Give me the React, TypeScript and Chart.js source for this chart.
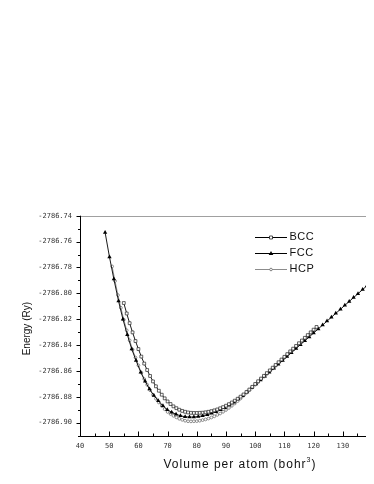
import React, { useEffect, useRef } from "react";
import { Chart, registerables } from "chart.js";
Chart.register(...registerables);

const seriesNames = ["BCC", "FCC", "HCP"];

const bccVolume = [55, 56, 57, 58, 59, 60, 61, 62, 63, 64, 65, 66, 67, 68, 69, 70, 71, 72, 73, 74, 75, 76, 77, 78, 79, 80, 81, 82, 83, 84, 85, 86, 87, 88, 89, 90, 91, 92, 93, 94, 95, 96, 97, 98, 99, 100, 101, 102, 103, 104, 105, 106, 107, 108, 109, 110, 111, 112, 113, 114, 115, 116, 117, 118, 119, 120, 121];
const bccEnergy = [-2786.8075, -2786.8156, -2786.8231, -2786.8302, -2786.8369, -2786.8431, -2786.8489, -2786.8543, -2786.8593, -2786.8639, -2786.8681, -2786.8719, -2786.8753, -2786.8784, -2786.8812, -2786.8836, -2786.8856, -2786.8874, -2786.8888, -2786.89, -2786.8909, -2786.8916, -2786.8921, -2786.8924, -2786.8925, -2786.8925, -2786.8924, -2786.8923, -2786.892, -2786.8916, -2786.8911, -2786.8905, -2786.8898, -2786.8889, -2786.888, -2786.8869, -2786.8857, -2786.8844, -2786.883, -2786.8815, -2786.8799, -2786.8782, -2786.8763, -2786.8744, -2786.8723, -2786.8701, -2786.868, -2786.8659, -2786.8638, -2786.8617, -2786.8596, -2786.8575, -2786.8554, -2786.8533, -2786.8512, -2786.8491, -2786.847, -2786.8449, -2786.8428, -2786.8407, -2786.8386, -2786.8365, -2786.8344, -2786.8323, -2786.8302, -2786.8281, -2786.826];

const fccVolume = [48.6, 50.1, 51.6, 53.2, 54.7, 56.2, 57.7, 59.2, 60.8, 62.3, 63.8, 65.3, 66.8, 68.4, 69.9, 71.4, 72.9, 74.4, 76.0, 77.5, 79.0, 80.5, 82.0, 83.6, 85.1, 86.6, 88.1, 89.6, 91.2, 92.7, 94.2, 95.7, 97.2, 98.8, 100.3, 101.8, 103.3, 104.8, 106.4, 107.9, 109.4, 110.9, 112.4, 114.0, 115.5, 117.0, 118.5, 120.0, 121.6, 123.1, 124.6, 126.1, 127.6, 129.2, 130.7, 132.2, 133.7, 135.2, 136.8, 138.3];
const fccEnergy = [-2786.753, -2786.772, -2786.789, -2786.806, -2786.82, -2786.832, -2786.843, -2786.852, -2786.861, -2786.868, -2786.874, -2786.879, -2786.883, -2786.887, -2786.89, -2786.892, -2786.8935, -2786.8947, -2786.8954, -2786.8957, -2786.8956, -2786.8953, -2786.8947, -2786.8938, -2786.8928, -2786.8916, -2786.8901, -2786.8884, -2786.8863, -2786.8842, -2786.8818, -2786.8791, -2786.8763, -2786.8731, -2786.8701, -2786.8671, -2786.8641, -2786.8611, -2786.8579, -2786.8549, -2786.8519, -2786.8489, -2786.8459, -2786.8427, -2786.8397, -2786.8367, -2786.8337, -2786.8307, -2786.8275, -2786.8245, -2786.8215, -2786.8185, -2786.8155, -2786.8123, -2786.8093, -2786.8063, -2786.8033, -2786.8003, -2786.7971, -2786.7941];

const hcpVolume = [51, 52, 53, 54, 55, 56, 57, 58, 59, 60, 61, 62, 63, 64, 65, 66, 67, 68, 69, 70, 71, 72, 73, 74, 75, 76, 77, 78, 79, 80, 81, 82, 83, 84, 85, 86, 87, 88, 89, 90, 91, 92, 93, 94, 95, 96, 97, 98, 99, 100, 101, 102, 103, 104, 105, 106, 107, 108, 109, 110, 111, 112, 113, 114, 115, 116, 117, 118, 119, 120];
const hcpEnergy = [-2786.7792, -2786.7905, -2786.8014, -2786.8112, -2786.8204, -2786.8286, -2786.8364, -2786.8435, -2786.8497, -2786.8557, -2786.8613, -2786.8663, -2786.8707, -2786.8749, -2786.8784, -2786.8815, -2786.8844, -2786.8871, -2786.8896, -2786.8917, -2786.8933, -2786.8947, -2786.8959, -2786.897, -2786.8978, -2786.8985, -2786.8989, -2786.899, -2786.8989, -2786.8988, -2786.8985, -2786.898, -2786.8975, -2786.8968, -2786.896, -2786.8951, -2786.894, -2786.8929, -2786.8916, -2786.8902, -2786.8886, -2786.887, -2786.8852, -2786.8833, -2786.8813, -2786.8791, -2786.877, -2786.8749, -2786.8728, -2786.8707, -2786.8686, -2786.8665, -2786.8644, -2786.8623, -2786.8602, -2786.8581, -2786.856, -2786.8539, -2786.8518, -2786.8497, -2786.8476, -2786.8455, -2786.8434, -2786.8413, -2786.8392, -2786.8371, -2786.835, -2786.8329, -2786.8308, -2786.8287];

const xTicks = [40, 50, 60, 70, 80, 90, 100, 110, 120, 130, 140];
const yTicks = [-2786.74, -2786.76, -2786.78, -2786.8, -2786.82, -2786.84, -2786.86, -2786.88, -2786.9];
const xTitle = "Volume per atom (bohr";
const xTitleSup = "3";
const yTitle = "Energy (Ry)";

const X_MIN = 40;
const X_MAX = 145;
const Y_MIN = -2786.91;
const Y_MAX = -2786.74;

const toPoints = (xs: number[], ys: number[]) => xs.map((x, i) => ({ x, y: ys[i] }));

const decorPlugin = {
  id: "decor",
  afterDraw(chart: any) {
    const { ctx, chartArea: a, scales } = chart;
    const xs = scales.x;
    const ys = scales.y;
    ctx.save();
    ctx.lineWidth = 1;
    // top frame
    ctx.strokeStyle = "#a0a0a0";
    ctx.beginPath();
    ctx.moveTo(a.left, Math.round(a.top) + 0.5);
    ctx.lineTo(chart.width, Math.round(a.top) + 0.5);
    ctx.stroke();
    // axes
    ctx.strokeStyle = "#000";
    const ax = Math.round(a.left) + 0.5;
    const ay = Math.round(a.bottom) + 0.5;
    ctx.beginPath();
    ctx.moveTo(ax, a.top);
    ctx.lineTo(ax, ay);
    ctx.lineTo(a.right, ay);
    ctx.stroke();
    // x ticks (inward), major every 10, minor every 5
    ctx.beginPath();
    for (let v = X_MIN; v <= X_MAX; v += 5) {
      const px = Math.round(xs.getPixelForValue(v)) + 0.5;
      const len = (v - X_MIN) % 10 === 0 ? 5 : 3;
      ctx.moveTo(px, ay);
      ctx.lineTo(px, ay - len);
    }
    // y ticks (outward)
    for (let k = 0; k <= 17; k++) {
      const v = Y_MAX - k * 0.01;
      const py = Math.round(ys.getPixelForValue(v)) + 0.5;
      const len = k % 2 === 0 ? 4 : 2.5;
      ctx.moveTo(ax, py);
      ctx.lineTo(ax - len, py);
    }
    ctx.stroke();
    // tick labels
    ctx.fillStyle = "#333";
    ctx.font = '7px "DejaVu Sans Mono"';
    ctx.textAlign = "center";
    ctx.textBaseline = "middle";
    xTicks.forEach((v) => {
      ctx.fillText(String(v), xs.getPixelForValue(v), a.bottom + 11);
    });
    ctx.textAlign = "right";
    yTicks.forEach((v) => {
      ctx.fillText(v.toFixed(2), a.left - 8, ys.getPixelForValue(v));
    });
    // y title
    ctx.fillStyle = "#111";
    ctx.font = '10px "Liberation Sans"';
    ctx.textAlign = "center";
    ctx.save();
    ctx.translate(19, (a.top + a.bottom) / 2 + 3);
    ctx.rotate(-Math.PI / 2);
    ctx.fillText(yTitle, 0, 0);
    ctx.restore();
    // x title with superscript
    (ctx as any).letterSpacing = "1px";
    ctx.textAlign = "left";
    ctx.font = '12px "Liberation Sans"';
    const w1 = ctx.measureText(xTitle).width;
    const w3 = ctx.measureText(")").width;
    ctx.font = '7px "Liberation Sans"';
    const w2 = ctx.measureText(xTitleSup).width;
    const cx = 232;
    const cy = a.bottom + 29.5;
    let sx = cx - (w1 + w2 + w3) / 2;
    ctx.font = '12px "Liberation Sans"';
    ctx.fillText(xTitle, sx, cy);
    sx += w1;
    ctx.font = '7px "Liberation Sans"';
    ctx.fillText(xTitleSup, sx, cy - 5);
    sx += w2;
    ctx.font = '12px "Liberation Sans"';
    ctx.fillText(")", sx, cy);
    // legend
    (ctx as any).letterSpacing = "0.5px";
    const lx = 247;
    const ly0 = 228.7;
    const rowH = 15.9;
    const ds = chart.data.datasets;
    seriesNames.forEach((name: string, i: number) => {
      const d = ds[i];
      const y = ly0 + i * rowH;
      ctx.strokeStyle = d.borderColor;
      ctx.lineWidth = 1;
      ctx.beginPath();
      ctx.moveTo(lx, Math.round(y) + 0.5);
      ctx.lineTo(lx + 32, Math.round(y) + 0.5);
      ctx.stroke();
      const mx = lx + 16;
      const my = Math.round(y) + 0.5;
      ctx.fillStyle = d.pointBackgroundColor;
      ctx.strokeStyle = d.pointBorderColor;
      ctx.lineWidth = 0.8;
      ctx.beginPath();
      if (d.pointStyle === "rect") {
        ctx.rect(mx - 1.5, my - 1.5, 3, 3);
        ctx.fill();
        ctx.stroke();
      } else if (d.pointStyle === "triangle") {
        ctx.moveTo(mx, my - 2.5);
        ctx.lineTo(mx + 2.3, my + 1.5);
        ctx.lineTo(mx - 2.3, my + 1.5);
        ctx.closePath();
        ctx.fill();
      } else {
        ctx.arc(mx, my, 1.3, 0, Math.PI * 2);
        ctx.fill();
        ctx.stroke();
      }
      ctx.fillStyle = "#111";
      ctx.font = '11px "Liberation Sans"';
      ctx.textAlign = "left";
      ctx.textBaseline = "middle";
      ctx.fillText(name, lx + 34.5, y + 0.5);
    });
    ctx.restore();
  },
};

export default function App() {
  const ref = useRef<HTMLCanvasElement>(null);
  useEffect(() => {
    if (!ref.current) return;
    const chart = new Chart(ref.current, {
      type: "line",
      data: {
        datasets: [
          {
            label: seriesNames[0],
            data: toPoints(bccVolume, bccEnergy),
            borderColor: "#000",
            borderWidth: 0.9,
            pointStyle: "rect",
            pointRadius: 2.0,
            pointBackgroundColor: "#fff",
            pointBorderColor: "#222",
            pointBorderWidth: 0.7,
            tension: 0,
          },
          {
            label: seriesNames[1],
            data: toPoints(fccVolume, fccEnergy),
            borderColor: "#000",
            borderWidth: 0.9,
            pointStyle: "triangle",
            pointRadius: 2.5,
            pointBackgroundColor: "#000",
            pointBorderColor: "#000",
            pointBorderWidth: 0,
            tension: 0,
          },
          {
            label: seriesNames[2],
            data: toPoints(hcpVolume, hcpEnergy),
            borderColor: "#8c8c8c",
            borderWidth: 0.9,
            pointStyle: "circle",
            pointRadius: 1.4,
            pointBackgroundColor: "#fff",
            pointBorderColor: "#666",
            pointBorderWidth: 0.7,
            tension: 0,
          },
        ],
      } as any,
      options: {
        responsive: false,
        animation: false,
        events: [],
        layout: { padding: { left: 72, top: 207.7, right: 21.4, bottom: 40.4 } },
        plugins: { legend: { display: false }, tooltip: { enabled: false } },
        scales: {
          x: { type: "linear", display: false, min: X_MIN, max: X_MAX },
          y: { type: "linear", display: false, min: Y_MIN, max: Y_MAX },
        },
      } as any,
      plugins: [decorPlugin],
    });
    return () => chart.destroy();
  }, []);
  return (
    <div style={{ width: 366, height: 468, overflow: "hidden" }}>
      <canvas ref={ref} width={400} height={468} style={{ display: "block" }} />
    </div>
  );
}
